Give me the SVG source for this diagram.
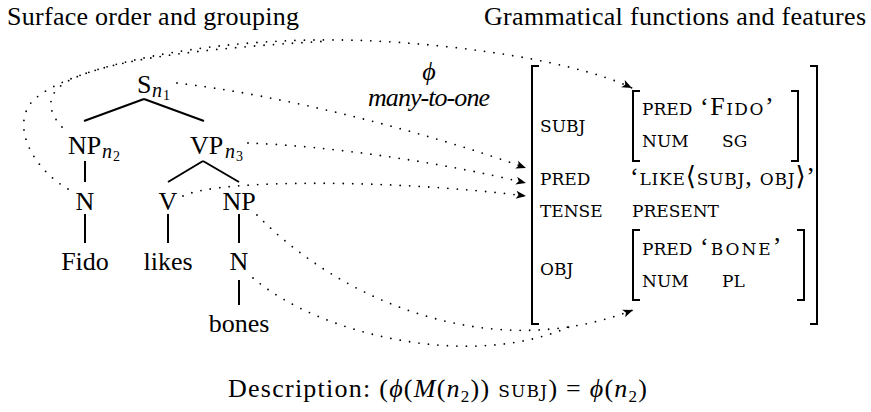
<svg xmlns="http://www.w3.org/2000/svg" width="871" height="412" viewBox="0 0 871 412">
<style>
text { font-family: "Liberation Serif", "DejaVu Serif", serif; fill: #000; font-size: 26px; }
.it { font-style: italic; }
.sub { font-size: 20px; font-style: italic; }
.sub2 { font-size: 14px; font-style: normal; }
.sc { font-family: "DejaVu Serif", "Liberation Serif", serif; font-size: 17px; }
.edge { stroke: #000; stroke-width: 2; fill: none; }
.br { stroke: #000; stroke-width: 2; fill: none; }
.dot { stroke: #000; stroke-width: 1.8; fill: none; stroke-dasharray: 0 9.5; stroke-linecap: round; }
</style>
<defs>
<marker id="ah" markerUnits="userSpaceOnUse" markerWidth="12" markerHeight="10" refX="10" refY="4" orient="auto" overflow="visible">
<path d="M0,0 L10,4 L0,8 L2.5,4 Z" fill="#000"/>
</marker>
</defs>

<g id="titles">
<text x="7" y="25" textLength="292">Surface order and grouping</text>
<text x="484" y="25" textLength="382">Grammatical functions and features</text>
</g>

<g id="tree-edges">
<path class="edge" d="M144,99 L84,121 M144,99 L204,121"/>
<path class="edge" d="M85,161 V182"/>
<path class="edge" d="M203,161 L168,182 M203,161 L239,182"/>
<path class="edge" d="M85,214 V243 M168,214 V243 M239,214 V243"/>
<path class="edge" d="M239,280 V305"/>
</g>

<g id="node-S"><text x="137" y="93">S<tspan class="sub" x="152" y="97">n</tspan><tspan class="sub2" x="163" y="100">1</tspan></text></g>
<g id="node-NPn2"><text x="68" y="154">NP<tspan class="sub" x="102" y="158">n</tspan><tspan class="sub2" x="113" y="161">2</tspan></text></g>
<g id="node-VPn3"><text x="190" y="154">VP<tspan class="sub" x="225" y="158">n</tspan><tspan class="sub2" x="236" y="161">3</tspan></text></g>
<g id="node-N1"><text x="85" y="210" text-anchor="middle">N</text></g>
<g id="node-V"><text x="168" y="210" text-anchor="middle">V</text></g>
<g id="node-NP"><text x="239" y="210" text-anchor="middle">NP</text></g>
<g id="node-Fido"><text x="85" y="270" text-anchor="middle">Fido</text></g>
<g id="node-likes"><text x="168" y="270" text-anchor="middle">likes</text></g>
<g id="node-N2"><text x="239" y="270" text-anchor="middle">N</text></g>
<g id="node-bones"><text x="239" y="332" text-anchor="middle">bones</text></g>

<g id="phi-label">
<text class="it" x="429" y="80" text-anchor="middle" font-size="20">ϕ</text>
<text class="it" x="368" y="106" textLength="122">many-to-one</text>
</g>

<g id="fstructure">
<path class="br" d="M539,66 H532 V324 H539 M810,66 H817 V324 H810"/>
<text class="sc" x="540" y="132">SUBJ</text>
<g id="f-subj">
<path class="br" d="M640,91 H633 V161 H640 M791,91 H798 V161 H791"/>
<text class="sc" x="642" y="115">PRED</text>
<text x="700" y="115" letter-spacing="1.5">‘F<tspan class="sc">IDO</tspan>’</text>
<text class="sc" x="642" y="147">NUM</text>
<text class="sc" x="722" y="147">SG</text>
</g>
<text class="sc" x="540" y="185">PRED</text>
<text x="630" y="185" textLength="185">‘<tspan class="sc">LIKE</tspan>⟨<tspan class="sc">SUBJ</tspan>, <tspan class="sc">OBJ</tspan>⟩’</text>
<text class="sc" x="540" y="217">TENSE</text>
<text class="sc" x="632" y="217">PRESENT</text>
<text class="sc" x="540" y="275">OBJ</text>
<g id="f-obj">
<path class="br" d="M640,230 H633 V300 H640 M797,230 H804 V300 H797"/>
<text class="sc" x="642" y="255">PRED</text>
<text x="700" y="255" letter-spacing="2">‘<tspan class="sc">BONE</tspan>’</text>
<text class="sc" x="642" y="287">NUM</text>
<text class="sc" x="722" y="287">PL</text>
</g>
</g>

<g id="connectors">
<path class="dot" marker-end="url(#ah)" d="M177,83 C280,95 420,130 526,168"/>
<path class="dot" marker-end="url(#ah)" d="M248,143 C330,146 440,162 526,183"/>
<path class="dot" marker-end="url(#ah)" d="M183,196 C220,178 400,180 526,196"/>
<path class="dot" marker-end="url(#ah)" d="M68,189 C35,170 12,130 30,104 C55,72 180,42 313,40 C420,38 570,58 632,88"/>
<path class="dot" d="M62,127 C46,110 46,92 70,80 C110,60 200,48 330,41"/>
<path class="dot" marker-end="url(#ah)" d="M257,215 C340,300 490,365 633,310"/>
<path class="dot" d="M253,278 C320,335 470,370 569,327"/>
</g>

<g id="description">
<text x="228" y="397" textLength="419">Description: (<tspan class="it">ϕ</tspan>(<tspan class="it">M</tspan>(<tspan class="it">n</tspan><tspan dy="5" font-size="17px">2</tspan><tspan dy="-5">)) </tspan><tspan class="sc">SUBJ</tspan>) = <tspan class="it">ϕ</tspan>(<tspan class="it">n</tspan><tspan dy="5" font-size="17px">2</tspan><tspan dy="-5">)</tspan></text>
</g>
</svg>
